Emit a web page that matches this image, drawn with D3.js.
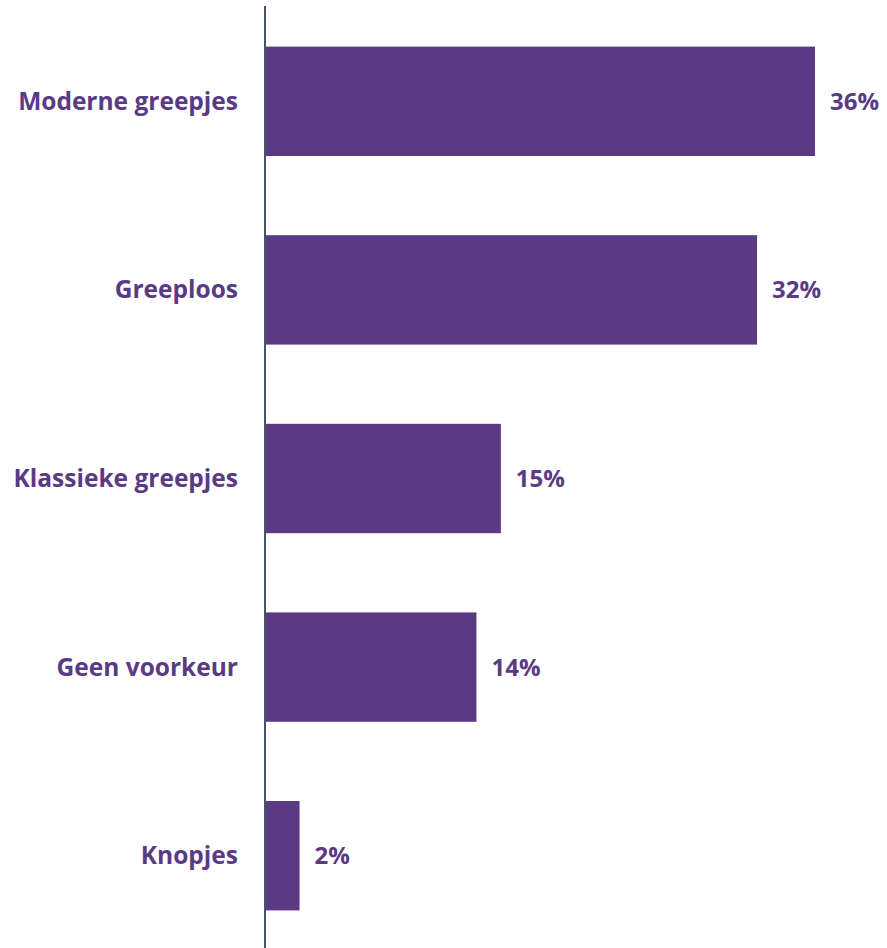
<!DOCTYPE html>
<html>
<head>
<meta charset="utf-8">
<script src="https://cdn.jsdelivr.net/npm/d3@7"></script>
<style>
  html, body { margin: 0; padding: 0; background: #fff; }
  svg { display: block; }
  text { font-family: "Open Sans", sans-serif; font-weight: 700; fill: #5b3a84; }
</style>
</head>
<body>
<svg id="chart"></svg>
<script>
// answers (percent)
const categories = ["Moderne greepjes", "Greeploos", "Klassieke greepjes", "Geen voorkeur", "Knopjes"];
const values = [36.0, 32.2, 15.4, 13.8, 2.2];
const valueLabels = ["36%", "32%", "15%", "14%", "2%"];

const width = 887, height = 948;
const axisX = 265;

const svg = d3.select("#chart")
    .attr("width", width)
    .attr("height", height);

const x = d3.scaleLinear()
    .domain([0, 36])
    .range([axisX + 1, 815]);

const y = d3.scaleBand()
    .domain(categories)
    .range([7, 950])
    .paddingInner(0.42)
    .paddingOuter(0.21);

const data = categories.map((c, i) => ({ cat: c, value: values[i], label: valueLabels[i] }));

svg.selectAll(".bar")
    .data(data)
    .enter()
    .append("rect")
    .attr("class", "bar")
    .attr("x", x(0))
    .attr("y", d => y(d.cat))
    .attr("width", d => x(d.value) - x(0))
    .attr("height", y.bandwidth())
    .attr("fill", "#5b3a84");

// category labels
svg.selectAll(".cat")
    .data(data)
    .enter()
    .append("text")
    .attr("class", "cat")
    .attr("x", 238)
    .attr("y", d => y(d.cat) + y.bandwidth() / 2)
    .attr("dy", "0.35em")
    .attr("text-anchor", "end")
    .style("font-size", "24.5px")
    .text(d => d.cat);

// value labels
svg.selectAll(".val")
    .data(data)
    .enter()
    .append("text")
    .attr("class", "val")
    .attr("x", d => x(d.value) + 15)
    .attr("y", d => y(d.cat) + y.bandwidth() / 2)
    .attr("dy", "0.35em")
    .style("font-size", "24px")
    .text(d => d.label);

// vertical axis line
svg.append("line")
    .attr("x1", axisX).attr("x2", axisX)
    .attr("y1", 6).attr("y2", height)
    .attr("stroke", "#44546a")
    .attr("stroke-width", 2);
</script>
</body>
</html>
